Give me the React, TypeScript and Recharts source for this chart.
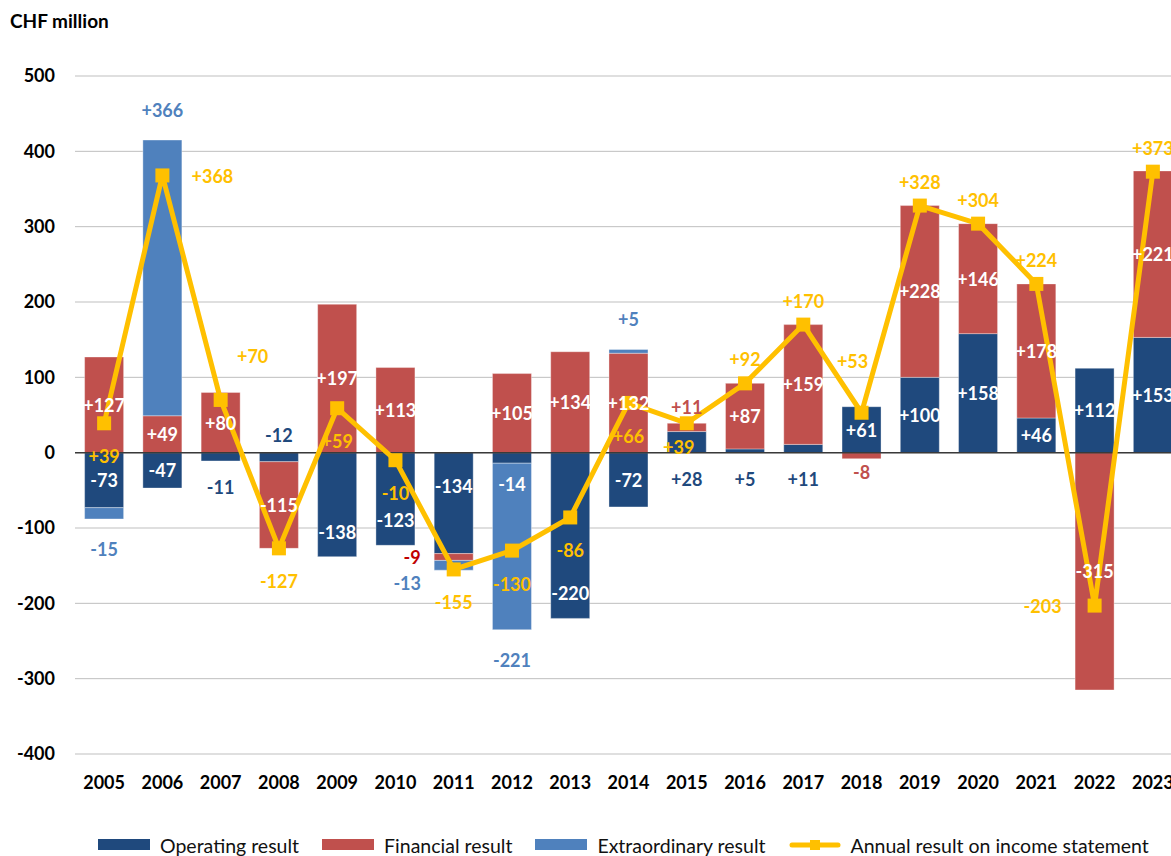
import {
  ComposedChart,
  Bar,
  Line,
  XAxis,
  YAxis,
  CartesianGrid,
  ReferenceLine,
  Legend,
  LabelList,
} from 'recharts'

const years = [
  '2005', '2006', '2007', '2008', '2009', '2010', '2011', '2012', '2013', '2014',
  '2015', '2016', '2017', '2018', '2019', '2020', '2021', '2022', '2023',
]
const operating = [-73, -47, -11, -12, -138, -123, -134, -14, -220, -72, 28, 5, 11, 61, 100, 158, 46, 112, 153]
const financial = [127, 49, 80, -115, 197, 113, -9, 105, 134, 132, 11, 87, 159, -8, 228, 146, 178, -315, 221]
const extraordinary = [-15, 366, 0, 0, 0, 0, -13, -221, 0, 5, 0, 0, 0, 0, 0, 0, 0, 0, 0]
const annual = [39, 368, 70, -127, 59, -10, -155, -130, -86, 66, 39, 92, 170, 53, 328, 304, 224, -203, 373]
// where the annual result label sits relative to its marker
const annualLabelSide = [
  'below', 'right', 'upperRight', 'below', 'below', 'below', 'below', 'below', 'below', 'below',
  'belowLeft', 'above', 'above', 'high', 'above', 'above', 'above', 'left', 'above',
]
const yTicks = [-400, -300, -200, -100, 0, 100, 200, 300, 400, 500]
const legendOrder = ['Operating result', 'Financial result', 'Extraordinary result', 'Annual result on income statement']

const data = years.map((year, i) => ({
  year,
  operating: operating[i],
  financial: financial[i],
  extraordinary: extraordinary[i],
  annual: annual[i],
}))

const DARK = '#1f497d'
const RED = '#c0504d'
const LIGHT = '#4f81bd'
const YELLOW = '#ffc000'
const FONT = 'Lato, "Open Sans", sans-serif'

const PAGE_W = 1171
const PAGE_H = 856
const CHART_W = 1188
const CHART_H = PAGE_H
const MARGIN = { top: 76, right: 6, bottom: 0, left: 0 }
const Y_AXIS_W = 75
const X_AXIS_H = 80
const LEGEND_H = 22
const PLOT_H = CHART_H - MARGIN.top - MARGIN.bottom - X_AXIS_H - LEGEND_H
const ZERO_Y = MARGIN.top + (PLOT_H * 500) / 900
const PLOT_LEFT = MARGIN.left + Y_AXIS_W
const BAND = (CHART_W - MARGIN.left - MARGIN.right - Y_AXIS_W) / years.length

const fmt = (v: number) => (v > 0 ? '+' + v : String(v))
const rowAt = (cx: number) => {
  const i = Math.max(0, Math.min(years.length - 1, Math.floor((cx - PLOT_LEFT) / BAND)))
  return { i, row: data[i] }
}

function ValueText({ x, y, fill, children }: any) {
  return (
    <text
      x={x}
      y={y}
      fill={fill}
      textAnchor="middle"
      dominantBaseline="central"
      fontFamily={FONT}
      fontWeight="bold"
      fontSize={18}
    >
      {children}
    </text>
  )
}

function segment(props: any) {
  const x = Number(props.x)
  const y = Number(props.y)
  const w = Number(props.width)
  const h = Number(props.height)
  return {
    cx: x + w / 2,
    left: x,
    top: Math.min(y, y + h),
    bot: Math.max(y, y + h),
  }
}

const OperatingLabel = (props: any) => {
  const v = Number(props.value)
  if (!v) return null
  const s = segment(props)
  const { row } = rowAt(s.cx)
  if (v <= -100) {
    // tall negative bars: keep clear of the annual marker
    const y = row.annual < v ? s.top + 33 : s.bot - 25
    return <ValueText x={s.cx} y={y} fill="#fff">{fmt(v)}</ValueText>
  }
  if (Math.abs(v) >= 40) {
    return <ValueText x={s.cx} y={(s.top + s.bot) / 2} fill="#fff">{fmt(v)}</ValueText>
  }
  if (v < 0 && row.extraordinary < 0) {
    return <ValueText x={s.cx} y={s.bot + 21} fill="#fff">{fmt(v)}</ValueText>
  }
  if (row.financial < 0) {
    return <ValueText x={s.cx} y={ZERO_Y - 18} fill={DARK}>{fmt(v)}</ValueText>
  }
  return <ValueText x={s.cx} y={Math.max(s.bot, ZERO_Y) + 26} fill={DARK}>{fmt(v)}</ValueText>
}

const FinancialLabel = (props: any) => {
  const v = Number(props.value)
  if (!v) return null
  const s = segment(props)
  const { row } = rowAt(s.cx)
  if (Math.abs(v) >= 20) {
    return <ValueText x={s.cx} y={(s.top + s.bot) / 2} fill="#fff">{fmt(v)}</ValueText>
  }
  if (v < 0 && row.extraordinary < 0) {
    return <ValueText x={s.left - 22} y={(s.top + s.bot) / 2} fill="#c00000">{fmt(v)}</ValueText>
  }
  if (v > 0) return <ValueText x={s.cx} y={s.top - 16} fill={RED}>{fmt(v)}</ValueText>
  return <ValueText x={s.cx} y={s.bot + 13} fill={RED}>{fmt(v)}</ValueText>
}

const ExtraordinaryLabel = (props: any) => {
  const v = Number(props.value)
  if (!v) return null
  const s = segment(props)
  const { row } = rowAt(s.cx)
  if (v < 0 && row.financial < 0) {
    return <ValueText x={s.left - 27} y={s.bot + 13} fill={LIGHT}>{fmt(v)}</ValueText>
  }
  if (v > 0) return <ValueText x={s.cx} y={s.top - 30} fill={LIGHT}>{fmt(v)}</ValueText>
  return <ValueText x={s.cx} y={s.bot + 30} fill={LIGHT}>{fmt(v)}</ValueText>
}

const AnnualLabel = (props: any) => {
  const v = Number(props.value)
  const x = Number(props.x)
  const y = Number(props.y)
  const { i } = rowAt(x)
  const side = annualLabelSide[i]
  let dx = 0
  let dy = 33
  if (side === 'above') dy = -24
  if (side === 'high') { dx = -9; dy = -52 }
  if (side === 'right') { dx = 50; dy = 1 }
  if (side === 'left') { dx = -52; dy = 0 }
  if (side === 'upperRight') { dx = 32; dy = -44 }
  if (side === 'belowLeft') { dx = -8; dy = 24 }
  return <ValueText x={x + dx} y={y + dy} fill={YELLOW}>{fmt(v)}</ValueText>
}

const SquareDot = (props: any) => {
  const { cx, cy, index } = props
  if (cx == null || cy == null) return <g key={index} />
  return <rect key={index} x={cx - 7} y={cy - 7} width={14} height={14} fill={YELLOW} />
}

const LegendContent = (props: any) => {
  const payload = [...(props.payload || [])].sort(
    (a: any, b: any) => legendOrder.indexOf(a.value) - legendOrder.indexOf(b.value),
  )
  return (
    <div
      style={{
        display: 'flex',
        alignItems: 'center',
        height: LEGEND_H,
        paddingLeft: 98,
        fontFamily: FONT,
        fontSize: 19.5,
        color: '#111',
        whiteSpace: 'nowrap',
      }}
    >
      {payload.map((entry: any) => (
        <div key={entry.value} style={{ display: 'flex', alignItems: 'center', marginRight: 23 }}>
          <svg width={52} height={14}>
            {entry.type === 'line' ? (
              <g>
                <line x1={3} y1={7} x2={49} y2={7} stroke={YELLOW} strokeWidth={5} strokeLinecap="round" />
                <rect x={21} y={2} width={10} height={10} fill={YELLOW} />
              </g>
            ) : (
              <rect x={0} y={1} width={52} height={11} fill={entry.color} />
            )}
          </svg>
          <span style={{ marginLeft: 10 }}>{entry.value}</span>
        </div>
      ))}
    </div>
  )
}

export default function App() {
  return (
    <div style={{ position: 'relative', width: PAGE_W, height: PAGE_H, overflow: 'hidden' }}>
      <style>{'html, body { margin: 0; padding: 0; overflow: hidden; }'}</style>
      <div
        style={{
          position: 'absolute',
          left: 10,
          top: 9,
          fontFamily: FONT,
          fontWeight: 'bold',
          fontSize: 19,
          color: '#000',
          zIndex: 2,
        }}
      >
        CHF million
      </div>
      <ComposedChart
        width={CHART_W}
        height={CHART_H}
        data={data}
        margin={MARGIN}
        stackOffset="sign"
        barCategoryGap="16.5%"
      >
        <CartesianGrid vertical={false} stroke="#bfbfbf" />
        <XAxis
          dataKey="year"
          interval={0}
          axisLine={false}
          tickLine={false}
          height={X_AXIS_H}
          tickMargin={16}
          tick={{ fill: '#000', fontSize: 18, fontWeight: 'bold', fontFamily: FONT }}
        />
        <YAxis
          domain={[-400, 500]}
          ticks={yTicks}
          width={Y_AXIS_W}
          axisLine={false}
          tickLine={false}
          tickMargin={14}
          tick={{ fill: '#000', fontSize: 18, fontWeight: 'bold', fontFamily: FONT }}
        />
        <Bar
          dataKey="operating"
          name="Operating result"
          stackId="a"
          fill={DARK}
          stroke="#ffffff"
          strokeOpacity={0.35}
          isAnimationActive={false}
        >
          <LabelList dataKey="operating" content={OperatingLabel} />
        </Bar>
        <Bar
          dataKey="financial"
          name="Financial result"
          stackId="a"
          fill={RED}
          stroke="#ffffff"
          strokeOpacity={0.35}
          isAnimationActive={false}
        >
          <LabelList dataKey="financial" content={FinancialLabel} />
        </Bar>
        <Bar
          dataKey="extraordinary"
          name="Extraordinary result"
          stackId="a"
          fill={LIGHT}
          stroke="#ffffff"
          strokeOpacity={0.35}
          isAnimationActive={false}
        >
          <LabelList dataKey="extraordinary" content={ExtraordinaryLabel} />
        </Bar>
        <ReferenceLine y={0} stroke="#3a3a3a" strokeWidth={1.5} />
        <Line
          type="linear"
          dataKey="annual"
          name="Annual result on income statement"
          stroke={YELLOW}
          strokeWidth={5}
          dot={SquareDot}
          activeDot={false}
          legendType="line"
          isAnimationActive={false}
        >
          <LabelList dataKey="annual" content={AnnualLabel} />
        </Line>
        <Legend
          verticalAlign="bottom"
          align="left"
          height={LEGEND_H}
          content={LegendContent}
          wrapperStyle={{ left: 0, width: CHART_W }}
        />
      </ComposedChart>
    </div>
  )
}
